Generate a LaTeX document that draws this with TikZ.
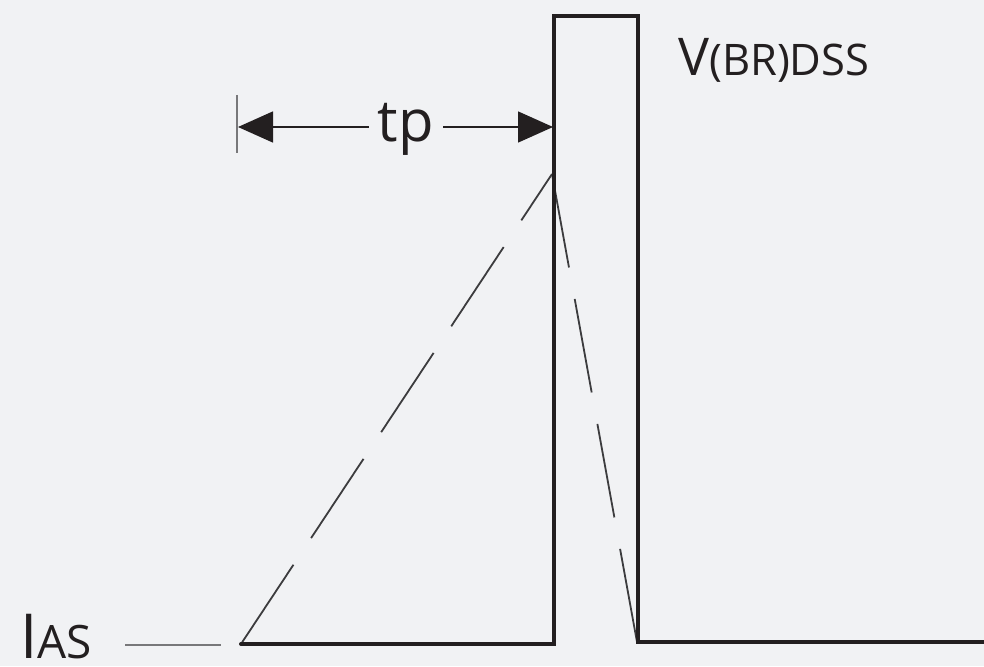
\documentclass[tikz,border=0pt]{standalone}
\usepackage{fontspec}
\setmainfont{Open Sans}
\usetikzlibrary{arrows.meta}
\definecolor{bg}{RGB}{241,242,244}
\definecolor{ink}{RGB}{35,31,32}
\definecolor{dashink}{RGB}{60,60,62}
\definecolor{greyline}{RGB}{120,120,122}
\tikzset{
  wave/.style={draw=ink, line width=4pt, line join=miter},
  ramp/.style={draw=dashink, line width=1.8pt, dash pattern=on 95pt off 32pt},
  dim/.style={draw=ink, line width=1.5pt},
  dimarrow/.style={dim, -{Triangle[length=35pt, width=31pt]}},
  lbl/.style={inner sep=0pt, text=ink},
}
\begin{document}
\begin{tikzpicture}[x=1pt, y=-1pt]
\fill[bg] (0,0) rectangle (984,666);
\useasboundingbox (0,0) rectangle (984,666);
% waveform corners
\coordinate (s0) at (241,644);
\coordinate (s1) at (554,644);
\coordinate (s2) at (554,16);
\coordinate (s3) at (638,16);
\coordinate (s4) at (638,642);
\coordinate (s5) at (986,642);
\coordinate (apex) at (552,174);
\coordinate (rampend) at (637,642);
% dashed ramps
\draw[ramp] (s0) -- (apex);
\draw[ramp] (apex) -- (rampend);
% thick waveform
\draw[wave, line cap=round] (s0) -- (s1) -- (s2) -- (s3) -- (s4) -- (s5);
% tp dimension
\coordinate (tickTop) at (237,95);
\coordinate (tickBot) at (237,153);
\coordinate (ltip) at (238,127);
\coordinate (rtip) at (553,127);
\draw[draw=greyline, line width=1.5pt] (tickTop) -- (tickBot);
\node[lbl, font=\fontsize{58}{58}\selectfont, inner xsep=9pt, anchor=base] (tp) at (406,141) {tp};
\draw[dimarrow] (tp.west |- ltip) -- (ltip);
\draw[dimarrow] (tp.east |- rtip) -- (rtip);
% labels
\node[lbl, anchor=base west] (vbr) at (678,76) {\fontsize{52}{52}\selectfont V\fontsize{43.5}{43.5}\selectfont(BR)DSS};
\node[lbl, anchor=base west] (ias) at (20,658) {\fontsize{62}{62}\selectfont I\fontsize{46}{46}\selectfont AS};
\coordinate (iasA) at (125,645);
\coordinate (iasB) at (221,645);
\draw[draw=greyline, line width=2pt] (iasA) -- (iasB);
\end{tikzpicture}
\end{document}
